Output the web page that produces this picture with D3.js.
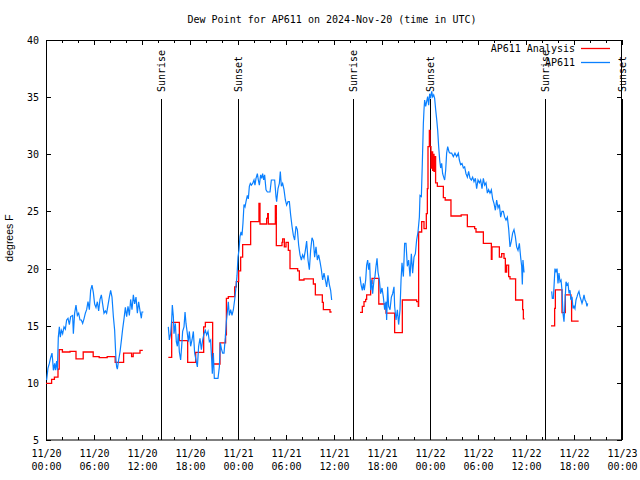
<!DOCTYPE html>
<html><head><meta charset="utf-8">
<script src="https://cdn.jsdelivr.net/npm/d3@7"></script>
<style>
body{margin:0;background:#fff}
svg{display:block}
text{font-family:"DejaVu Sans Mono",monospace;font-size:10px;fill:#000}
</style>
</head><body>
<svg id="chart" width="640" height="480"></svg>
<script>
// ---------- data ----------
const chartTitle = "Dew Point for AP611 on 2024-Nov-20 (time in UTC)";
const yAxisLabel = "degrees F";
const startUTC = Date.UTC(2024, 10, 20, 0, 0);
const spanHours = 72;
const yTickValues = [5, 10, 15, 20, 25, 30, 35, 40];
const seriesNames = ["AP611 Analysis", "AP611"];
const seriesColors = ["#ff0000", "#0a80ff"];
// sun events: [label, hours after start]
const sunLabels = ["Sunrise", "Sunset", "Sunrise", "Sunset", "Sunrise", "Sunset"];
const sunHours = [14.42, 24.03, 38.42, 47.97, 62.4, 72];

// Analysis (hourly steps), [hour, degF]; segments separated
const analysisSeg1 = [[0,9.95],[0.7,10.3],[1.05,10.5],[1.5,11.2],[1.65,12.9],[2.05,12.7],[3.0,12.75],[3.75,12.1],[4.65,12.7],[5.9,12.3],[6.65,12.2],[7.65,12.3],[8.65,11.8],[9.7,12.6],[10.7,12.3],[10.9,12.6],[11.75,12.85],[12.1,12.85]];
const analysisSeg2 = [[15.29,12.23],[15.71,15.3],[16.67,13.7],[17.71,11.8],[18.71,12.67],[19.71,14.9],[19.92,15.3],[20.83,11.65],[21.75,13.5],[22.45,14.2],[22.55,17.4],[22.79,17.54],[23.58,18.4],[23.79,18.85],[24.08,19.8],[24.33,21.0],[24.58,22.1],[25.58,24.1],[26.62,25.7],[26.75,23.9],[27.58,24.4],[27.71,24.8],[27.79,23.9],[28.67,25.5],[28.79,22.0],[29.5,22.3],[29.58,22.6],[29.79,21.9],[30.0,22.3],[30.29,21.6],[30.5,20.0],[31.46,19.8],[31.67,19.0],[32.25,19.1],[33.42,18.65],[33.67,17.7],[34.54,17.05],[34.67,16.4],[35.5,16.2],[35.7,16.2]];
const analysisSeg3 = [[39.25,16.17],[39.54,16.7],[39.75,17.1],[39.96,17.3],[40.08,17.7],[40.58,18.7],[40.75,19.15],[41.6,16.9],[42.5,16.1],[43.58,14.4],[44.54,17.25],[46.33,17.1],[46.54,16.7],[46.58,23.2],[46.96,24.1],[47.25,23.5],[47.54,24.8],[47.67,27.0],[47.75,30.67],[47.92,32.1],[48.0,30.67],[48.12,28.8],[48.2,30.2],[48.33,28.6],[48.42,30.0],[48.5,28.5],[48.58,29.8],[48.7,27.5],[48.92,27.2],[49.67,26.2],[49.9,26.0],[50.62,24.6],[51.9,24.7],[52.67,23.67],[53.58,23.5],[53.75,23.2],[54.67,22.2],[55.67,20.8],[55.75,21.9],[56.67,21.0],[56.96,21.3],[57.25,20.9],[57.42,19.7],[57.58,20.3],[57.83,19.3],[58.0,19.1],[58.7,17.25],[59.58,16.4],[59.67,15.6],[59.83,15.6]];
const analysisSeg4 = [[63.12,14.98],[63.58,16.52],[63.67,18.13],[64.5,16.14],[64.92,17.7],[65.62,17.4],[65.7,15.4],[66.58,15.4]];

// Station observations, [hour, degF]
const stationSeg1 = [[0.08,10.25],[0.25,11.3],[0.42,11.7],[0.58,12.2],[0.75,12.6],[0.83,12.0],[0.92,11.1],[1.08,11.7],[1.17,11.1],[1.33,11.9],[1.42,11.1],[1.54,14.0],[1.67,14.9],[1.79,14.0],[1.92,14.6],[2.08,14.3],[2.25,14.9],[2.42,14.7],[2.58,15.5],[2.75,15.65],[2.92,15.1],[3.08,15.8],[3.33,15.9],[3.42,14.3],[3.58,16.1],[3.75,16.8],[3.92,15.9],[4.08,16.1],[4.25,15.5],[4.42,15.5],[4.58,15.2],[4.75,15.6],[4.92,16.1],[5.08,16.4],[5.25,17.1],[5.42,16.4],[5.58,18.1],[5.75,18.55],[5.92,17.9],[6.08,16.9],[6.25,16.6],[6.42,17.1],[6.58,16.3],[6.75,17.3],[6.92,17.7],[7.08,16.9],[7.25,16.1],[7.42,16.3],[7.58,16.1],[7.75,16.8],[7.92,17.5],[8.08,18.1],[8.25,17.5],[8.42,15.8],[8.58,14.6],[8.67,13.2],[8.75,12.0],[8.83,11.4],[8.92,11.2],[9.08,12.0],[9.25,12.7],[9.42,13.7],[9.58,14.7],[9.75,15.6],[9.92,16.6],[10.08,15.8],[10.25,16.7],[10.42,15.9],[10.58,17.3],[10.75,16.4],[10.92,17.7],[11.08,16.9],[11.25,17.5],[11.42,16.1],[11.58,17.1],[11.75,16.3],[11.92,15.65],[12.0,16.2],[12.17,16.2]];
const stationSeg2 = [[15.29,14.9],[15.42,13.75],[15.58,14.3],[15.71,15.5],[15.79,16.8],[15.92,15.8],[16.0,14.3],[16.17,15.2],[16.29,13.6],[16.42,13.2],[16.54,14.3],[16.67,12.7],[16.83,12.0],[16.96,13.2],[17.08,14.5],[17.25,14.9],[17.38,16.2],[17.5,15.2],[17.67,14.3],[17.79,13.6],[17.92,14.5],[18.08,13.2],[18.25,13.75],[18.42,14.5],[18.58,12.6],[18.75,12.0],[18.92,11.4],[19.08,13.2],[19.25,13.9],[19.42,12.9],[19.58,13.75],[19.75,14.3],[19.92,14.6],[20.08,14.2],[20.25,14.5],[20.42,13.6],[20.58,13.75],[20.71,12.0],[20.79,10.8],[20.92,12.6],[21.04,10.4],[21.25,10.4],[21.5,10.4],[21.67,11.4],[21.79,13.5],[21.92,13.0],[22.08,12.6],[22.25,12.6],[22.42,14.0],[22.54,15.35],[22.67,16.2],[22.79,17.1],[22.92,15.9],[23.08,16.4],[23.25,15.9],[23.42,16.4],[23.58,17.25],[23.75,18.4],[23.88,19.4],[24.0,21.0],[24.12,21.6],[24.25,22.8],[24.38,23.2],[24.5,22.9],[24.62,23.96],[24.75,25.6],[24.88,25.4],[25.0,25.85],[25.17,26.4],[25.29,26.1],[25.42,27.2],[25.54,27.45],[25.67,27.3],[25.83,27.45],[26.0,27.75],[26.12,27.3],[26.25,27.9],[26.42,28.3],[26.54,27.75],[26.67,27.3],[26.83,28.2],[26.96,27.9],[27.08,28.3],[27.21,27.75],[27.33,28.2],[27.5,26.9],[27.67,26.7],[28.0,26.7],[28.17,27.75],[28.58,27.75],[28.75,26.3],[28.83,25.85],[29.0,27.0],[29.17,27.45],[29.29,28.5],[29.42,27.2],[29.58,27.45],[29.75,26.9],[29.92,26.0],[30.08,25.56],[30.25,25.85],[30.42,25.85],[30.58,24.7],[30.75,23.7],[30.92,22.9],[31.08,22.5],[31.25,23.7],[31.42,23.4],[31.58,22.06],[31.75,21.2],[31.92,20.75],[32.08,21.2],[32.25,20.9],[32.42,21.6],[32.58,22.4],[32.75,20.75],[32.92,19.9],[33.08,21.6],[33.25,22.7],[33.42,22.4],[33.58,21.0],[33.75,21.9],[33.92,20.75],[34.08,21.2],[34.25,20.6],[34.42,19.9],[34.58,19.0],[34.75,19.6],[34.92,19.0],[35.08,18.4],[35.25,19.4],[35.42,18.6],[35.58,18.1],[35.71,17.25]];
const stationSeg3 = [[39.25,19.3],[39.38,18.6],[39.54,18.1],[39.67,18.7],[39.79,18.1],[39.96,19.0],[40.08,20.3],[40.21,20.75],[40.33,19.9],[40.46,20.5],[40.58,18.1],[40.71,19.0],[40.83,17.8],[41.0,19.0],[41.12,19.3],[41.25,20.2],[41.38,20.9],[41.5,19.7],[41.67,19.0],[41.83,17.8],[42.0,18.3],[42.17,17.5],[42.33,16.4],[42.5,17.1],[42.58,15.5],[42.71,18.4],[42.83,16.7],[43.0,16.4],[43.17,17.5],[43.33,17.8],[43.5,18.4],[43.58,16.7],[43.75,15.5],[43.92,16.4],[44.08,15.1],[44.25,16.4],[44.38,19.0],[44.5,20.5],[44.67,19.3],[44.83,22.2],[45.0,22.2],[45.17,20.2],[45.33,20.75],[45.5,19.3],[45.67,21.3],[45.83,19.6],[46.0,21.0],[46.17,21.3],[46.33,22.5],[46.5,23.2],[46.67,24.5],[46.75,26.4],[46.92,26.3],[47.04,29.2],[47.17,32.7],[47.25,33.9],[47.33,34.75],[47.46,34.2],[47.58,34.6],[47.71,35.04],[47.83,34.3],[47.96,35.3],[48.08,34.9],[48.21,35.5],[48.33,35.04],[48.46,35.2],[48.58,34.9],[48.71,33.9],[48.83,33.1],[48.96,32.1],[49.08,30.7],[49.21,29.5],[49.33,28.8],[49.46,29.2],[49.58,28.3],[49.71,28.0],[49.83,27.75],[49.96,28.6],[50.08,30.1],[50.21,30.67],[50.38,30.2],[50.5,30.1],[50.71,30.1],[50.92,29.8],[51.12,30.1],[51.33,29.8],[51.54,30.1],[51.67,29.5],[51.83,29.1],[52.0,29.2],[52.17,28.8],[52.33,28.9],[52.5,28.3],[52.67,28.0],[52.83,28.5],[53.0,27.9],[53.17,27.75],[53.33,28.0],[53.5,27.6],[53.67,27.9],[53.83,27.0],[54.0,27.75],[54.17,27.5],[54.33,27.75],[54.5,27.0],[54.67,27.9],[54.83,27.3],[55.0,27.5],[55.17,26.6],[55.33,26.9],[55.5,26.6],[55.67,26.9],[55.83,26.1],[56.0,25.7],[56.17,25.1],[56.33,26.0],[56.5,25.3],[56.67,25.6],[56.83,24.5],[57.0,25.0],[57.17,25.0],[57.33,24.5],[57.5,24.25],[57.67,24.5],[57.83,23.5],[58.0,21.9],[58.17,22.4],[58.33,23.1],[58.5,23.4],[58.67,22.8],[58.83,21.9],[59.0,21.6],[59.17,22.2],[59.33,21.0],[59.46,20.2],[59.54,18.6],[59.62,20.75],[59.75,19.7],[59.83,19.7]];
const stationSeg4 = [[63.21,18.0],[63.29,17.4],[63.42,17.4],[63.5,18.4],[63.62,20.0],[63.75,19.73],[63.88,20.0],[64.0,18.7],[64.12,19.6],[64.25,18.85],[64.38,19.0],[64.5,18.1],[64.62,16.1],[64.75,15.35],[64.88,17.1],[65.0,18.85],[65.12,18.56],[65.25,18.7],[65.38,17.83],[65.5,18.1],[65.62,17.25],[65.75,17.54],[65.88,16.5],[66.0,16.7],[66.12,16.5],[66.25,17.25],[66.38,17.54],[66.5,17.83],[66.62,18.0],[66.75,17.54],[66.88,17.25],[67.0,16.96],[67.12,17.25],[67.25,17.7],[67.38,17.25],[67.5,17.1],[67.62,16.7],[67.71,16.96]];

const analysisSegments = [analysisSeg1, analysisSeg2, analysisSeg3, analysisSeg4];
const stationSegments = [stationSeg1, stationSeg2, stationSeg3, stationSeg4];

// ---------- drawing ----------
const svg = d3.select("#chart");
const toDate = h => new Date(startUTC + h * 3600e3);
const x = d3.scaleUtc().domain([toDate(0), toDate(spanHours)]).range([46, 622]);
const y = d3.scaleLinear().domain([5, 40]).range([440, 40]);

// title
svg.append("text").attr("x", 332).attr("y", 23).attr("text-anchor", "middle").text(chartTitle);

// y label
svg.append("text").attr("transform", "translate(13,238) rotate(-90)")
  .attr("text-anchor", "middle")
  .style("font-family", "'Liberation Sans', Arial, sans-serif")
  .style("font-size", "10.5px")
  .text(yAxisLabel);

const majorTicks = d3.utcHour.every(6).range(toDate(0), toDate(spanHours + 0.01));
const minorTicks = d3.utcHour.every(2).range(toDate(0), toDate(spanHours + 0.01));

// minor x ticks (bottom & top)
svg.append("g").attr("transform", "translate(0,440)")
  .call(d3.axisBottom(x).tickValues(minorTicks).tickSizeInner(-3).tickSizeOuter(0).tickFormat(""))
  .call(g => g.select(".domain").remove());
svg.append("g").attr("transform", "translate(0,40)")
  .call(d3.axisTop(x).tickValues(minorTicks).tickSizeInner(-3).tickSizeOuter(0).tickFormat(""))
  .call(g => g.select(".domain").remove());

// major x ticks with two-line labels
const fmtDay = d3.utcFormat("%m/%d"), fmtTime = d3.utcFormat("%H:%M");
const xb = svg.append("g").attr("transform", "translate(0,440)")
  .call(d3.axisBottom(x).tickValues(majorTicks).tickSizeInner(-5).tickSizeOuter(0));
xb.select(".domain").remove();
xb.selectAll(".tick text").each(function(d) {
  const t = d3.select(this).text(null).attr("y", null).attr("dy", null);
  t.append("tspan").attr("x", 0).attr("y", 17).text(fmtDay(d));
  t.append("tspan").attr("x", 0).attr("y", 30).text(fmtTime(d));
});
svg.append("g").attr("transform", "translate(0,40)")
  .call(d3.axisTop(x).tickValues(majorTicks).tickSizeInner(-5).tickSizeOuter(0).tickFormat(""))
  .call(g => g.select(".domain").remove());

// y axes
const yl = svg.append("g").attr("transform", "translate(46,0)")
  .call(d3.axisLeft(y).tickValues(yTickValues).tickSizeInner(-5).tickSizeOuter(0).tickPadding(7).tickFormat(d3.format("d")));
yl.select(".domain").remove();
yl.selectAll(".tick text").attr("x", -7).attr("dy", "0.35em");
svg.append("g").attr("transform", "translate(622,0)")
  .call(d3.axisRight(y).tickValues(yTickValues).tickSizeInner(-5).tickSizeOuter(0).tickFormat(""))
  .call(g => g.select(".domain").remove());

svg.selectAll(".tick line").attr("stroke", "#000").attr("shape-rendering", "crispEdges");
svg.selectAll("g text").style("font-family", "'DejaVu Sans Mono', monospace").style("font-size", "10px").attr("fill", "#000");

// frame
svg.append("rect").attr("x", 46.5).attr("y", 40.5).attr("width", 575).attr("height", 399.5)
  .attr("fill", "none").attr("stroke", "#000").attr("stroke-width", 1);

// sun events
sunHours.forEach((h, i) => {
  const px = Math.round(x(toDate(h))) + 0.5;
  svg.append("line").attr("x1", px).attr("x2", px).attr("y1", 99).attr("y2", 440)
    .attr("stroke", "#000").attr("stroke-width", 1);
  svg.append("text").attr("transform", `translate(${px + 3.5},92) rotate(-90)`)
    .attr("text-anchor", "start").text(sunLabels[i]);
});

// data lines
const lineStep = d3.line().x(d => x(toDate(d[0]))).y(d => y(d[1])).curve(d3.curveStepAfter);
const lineLin = d3.line().x(d => x(toDate(d[0]))).y(d => y(d[1]));
svg.append("g").selectAll("path").data(analysisSegments).join("path")
  .attr("d", lineStep).attr("fill", "none").attr("stroke", seriesColors[0]).attr("stroke-width", 1.3);
svg.append("g").selectAll("path").data(stationSegments).join("path")
  .attr("d", lineLin).attr("fill", "none").attr("stroke", seriesColors[1]).attr("stroke-width", 1.2);

// legend
seriesNames.forEach((name, i) => {
  const ly = 48 + i * 14;
  svg.append("text").attr("x", 575).attr("y", ly + 3.5).attr("text-anchor", "end").text(name);
  svg.append("line").attr("x1", 581).attr("x2", 610).attr("y1", ly + 0.5).attr("y2", ly + 0.5)
    .attr("stroke", seriesColors[i]).attr("stroke-width", 1.3);
});
</script>
</body></html>
